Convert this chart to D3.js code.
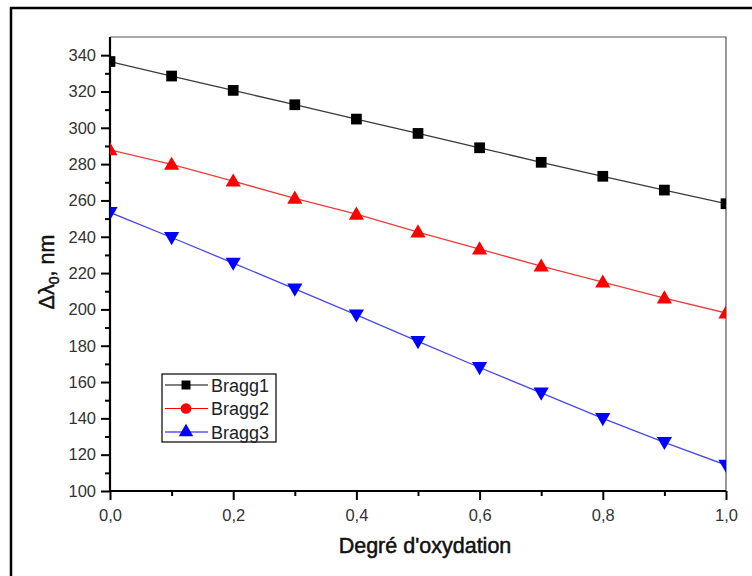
<!DOCTYPE html>
<html><head><meta charset="utf-8">
<script src="https://cdn.jsdelivr.net/npm/d3@7"></script>
<style>body{margin:0;background:#fff}svg{display:block}text{font-family:Arial,"Liberation Sans",sans-serif}</style>
</head><body>
<svg id="c" width="752" height="576"></svg>
<script>
const xValues = [0,0.1,0.2,0.3,0.4,0.5,0.6,0.7,0.8,0.9,1.0];
const bragg1 = [336.5,328.5,320.6,312.7,304.8,296.9,289,281,273.3,265.7,258.2];
const bragg2 = [287.8,279.8,270.6,261.2,252.4,242.6,233.2,223.8,215,206.2,198];
const bragg3 = [253.4,239.6,225.5,211.3,197,182.4,168,154,140,126.8,114.3];
const seriesNames = ["Bragg1","Bragg2","Bragg3"];
const xTicks = [0,0.2,0.4,0.6,0.8,1.0];
const yTicks = [100,120,140,160,180,200,220,240,260,280,300,320,340];

const svg = d3.select("#c");
const L=110,R=726,T=37,B=491;
const x = d3.scaleLinear().domain([0,1]).range([L,R]);
const y = d3.scaleLinear().domain([100,350]).range([B,T]);

// outer frame
svg.append("rect").attr("x",11).attr("y",8).attr("width",800).attr("height",700)
  .attr("fill","none").attr("stroke","#000").attr("stroke-width",2.5);

// plot top/right border
svg.append("path").attr("d",`M${L},${T}H${R}V${B}`).attr("fill","none").attr("stroke","#555").attr("stroke-width",1.2);

svg.append("clipPath").attr("id","clip").append("rect").attr("x",L).attr("y",T).attr("width",R-L).attr("height",B-T);

const fmt = d => d3.format(".1f")(d).replace(".",",");
// x axis
const xAx = svg.append("g").attr("transform",`translate(0,${B})`)
  .call(d3.axisBottom(x).tickValues(xTicks).tickSize(9).tickPadding(9).tickFormat(fmt));
svg.append("g").attr("transform",`translate(0,${B})`)
  .call(d3.axisBottom(x).tickValues([0.1,0.3,0.5,0.7,0.9]).tickSize(5).tickFormat(""))
  .call(g=>g.select(".domain").remove());
// y axis
const yAx = svg.append("g").attr("transform",`translate(${L},0)`)
  .call(d3.axisLeft(y).tickValues(yTicks).tickSize(9).tickPadding(5));
svg.append("g").attr("transform",`translate(${L},0)`)
  .call(d3.axisLeft(y).tickValues(d3.range(110,350,20)).tickSize(5).tickFormat(""))
  .call(g=>g.select(".domain").remove());
svg.selectAll(".tick line").attr("stroke","#000").attr("stroke-width",2);
svg.selectAll(".domain").attr("stroke","#000").attr("stroke-width",2.2);
svg.selectAll(".tick text").attr("font-size",16.5).attr("fill","#333");
yAx.selectAll(".domain").attr("d",`M0,${B}V${T}`);
xAx.selectAll(".domain").attr("d",`M${L},0H${R}`);

const plot = svg.append("g").attr("clip-path","url(#clip)");
const cfg = [
  {data:bragg1, line:"#3a3a3a", fill:"#000", sym:d3.symbolSquare, size:115, rot:0},
  {data:bragg2, line:"#f03a3a", fill:"#f00", sym:d3.symbolTriangle, size:100, rot:0},
  {data:bragg3, line:"#4848e8", fill:"#00f", sym:d3.symbolTriangle, size:100, rot:180},
];
const line = d3.line().x((d,i)=>x(xValues[i])).y(d=>y(d));
cfg.forEach(c=>{
  plot.append("path").attr("d",line(c.data)).attr("fill","none").attr("stroke",c.line).attr("stroke-width",1.3);
  plot.selectAll(null).data(c.data).enter().append("path")
    .attr("d",d3.symbol().type(c.sym).size(c.size))
    .attr("transform",(d,i)=>`translate(${x(xValues[i])},${y(d)+(c.sym===d3.symbolTriangle?(c.rot?-1:1):0)}) rotate(${c.rot})`)
    .attr("fill",c.fill);
});

// legend
const lg = svg.append("g");
lg.append("rect").attr("x",162).attr("y",374).attr("width",114).attr("height",68)
  .attr("fill","#fff").attr("stroke","#000").attr("stroke-width",1.2);
const lcfg = [
  {name:seriesNames[0], line:"#000", fill:"#000", sym:d3.symbolSquare, size:80},
  {name:seriesNames[1], line:"#f00", fill:"#f00", sym:d3.symbolCircle, size:90},
  {name:seriesNames[2], line:"#00f", fill:"#00f", sym:d3.symbolTriangle, size:90},
];
lcfg.forEach((c,i)=>{
  const cy = 385 + i*23.5;
  lg.append("line").attr("x1",165).attr("x2",208).attr("y1",cy).attr("y2",cy).attr("stroke",c.line).attr("stroke-width",1.2);
  lg.append("path").attr("d",d3.symbol().type(c.sym).size(c.size)).attr("transform",`translate(186,${cy})`).attr("fill",c.fill);
  lg.append("text").attr("x",211).attr("y",cy+6.5).attr("font-size",18).attr("fill","#222").text(c.name);
});

// axis titles
svg.append("text").attr("x",425).attr("y",553).attr("text-anchor","middle").attr("font-size",21.5)
  .attr("fill","#111").attr("stroke","#111").attr("stroke-width",0.5)
  .text("Degré d'oxydation");
const yl = svg.append("text").attr("transform","translate(54,272) rotate(-90)").attr("text-anchor","middle").attr("font-size",21.5)
  .attr("fill","#111").attr("stroke","#111").attr("stroke-width",0.5);
yl.append("tspan").text("Δλ");
yl.append("tspan").attr("font-size",14).attr("dy",5).text("0");
yl.append("tspan").attr("dy",-5).text(", nm");
</script>
</body></html>
